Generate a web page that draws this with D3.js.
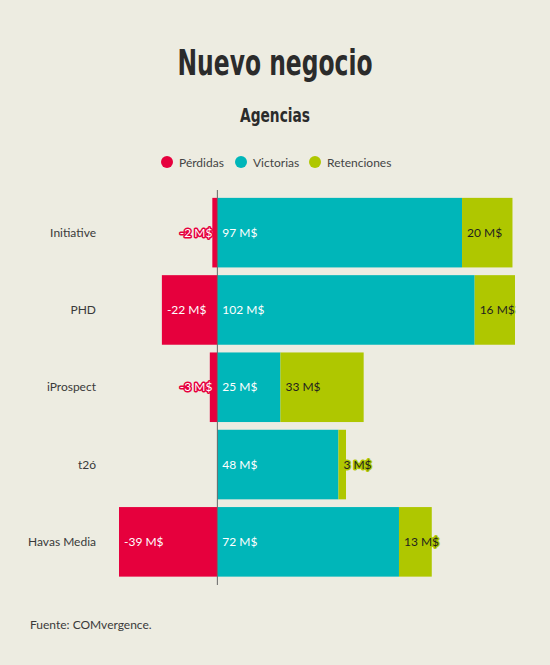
<!DOCTYPE html>
<html>
<head>
<meta charset="utf-8">
<script src="https://cdn.jsdelivr.net/npm/d3@7"></script>
<style>
  html, body { margin: 0; padding: 0; background: #edece1; }
  svg { display: block; }
</style>
</head>
<body>
<svg id="chart" width="550" height="665"></svg>
<script>
// nuevo negocio por agencia (M$)
const width = 550;
const height = 665;
const agencias = ["Initiative", "PHD", "iProspect", "t2ó", "Havas Media"];
const perdidas = [-2, -22, -3, 0, -39];
const victorias = [97, 102, 25, 48, 72];
const retenciones = [20, 16, 33, 3, 13];
const series = ["Pérdidas", "Victorias", "Retenciones"];
const colors = ["#e6003d", "#00b6b9", "#afc700"];
const labelColors = ["#ffffff", "#ffffff", "#1f1f1f"];

const bodyFont = "Lato, 'Noto Sans', sans-serif";
const titleFont = "'Liberation Sans Narrow', 'DejaVu Sans Condensed', sans-serif";

const svg = d3.select("#chart");
svg.append("rect").attr("width", width).attr("height", height).attr("fill", "#edece1");

// titles
svg.append("text")
    .attr("x", width / 2).attr("y", 75)
    .attr("text-anchor", "middle")
    .attr("font-family", titleFont)
    .attr("font-weight", "bold")
    .attr("font-size", 36)
    .attr("textLength", 195)
    .attr("lengthAdjust", "spacingAndGlyphs")
    .attr("fill", "#2b2b2b")
    .text("Nuevo negocio");

svg.append("text")
    .attr("x", width / 2).attr("y", 122)
    .attr("text-anchor", "middle")
    .attr("font-family", titleFont)
    .attr("font-weight", "bold")
    .attr("font-size", 20)
    .attr("textLength", 70)
    .attr("lengthAdjust", "spacingAndGlyphs")
    .attr("fill", "#2b2b2b")
    .text("Agencias");

// legend
const legendX = [167, 241, 315];
const legend = svg.append("g");
series.forEach((s, i) => {
    legend.append("circle")
        .attr("cx", legendX[i]).attr("cy", 162).attr("r", 6)
        .attr("fill", colors[i]);
    legend.append("text")
        .attr("x", legendX[i] + 12).attr("y", 166.5)
        .attr("font-family", bodyFont).attr("font-size", 12)
        .attr("fill", "#444")
        .text(s);
});

// build stacked rows
const rows = agencias.map((a, i) => ({
    agencia: a,
    segs: [
        { k: 0, x0: perdidas[i], x1: 0, v: perdidas[i] },
        { k: 1, x0: 0, x1: victorias[i], v: victorias[i] },
        { k: 2, x0: victorias[i], x1: victorias[i] + retenciones[i], v: retenciones[i] }
    ]
}));

const minV = d3.min(perdidas);
const maxV = d3.max(agencias, (_, i) => victorias[i] + retenciones[i]);
const x = d3.scaleLinear().domain([minV, maxV]).range([119, 515]);
const y = d3.scaleBand().domain(agencias).range([194, 580.5]).paddingInner(0.1).paddingOuter(0.05);

// y labels
svg.append("g")
    .selectAll("text")
    .data(agencias)
    .join("text")
    .attr("x", 96)
    .attr("y", d => y(d) + y.bandwidth() / 2 + 4)
    .attr("text-anchor", "end")
    .attr("font-family", bodyFont).attr("font-size", 12)
    .attr("fill", "#3a3a3a")
    .text(d => d);

const rowG = svg.append("g")
    .selectAll("g")
    .data(rows)
    .join("g")
    .attr("transform", d => `translate(0,${y(d.agencia)})`);

rowG.selectAll("rect")
    .data(d => d.segs.filter(s => s.v !== 0))
    .join("rect")
    .attr("x", d => x(Math.min(d.x0, d.x1)))
    .attr("width", d => Math.abs(x(d.x1) - x(d.x0)))
    .attr("y", 0)
    .attr("height", y.bandwidth())
    .attr("fill", d => colors[d.k]);

rowG.selectAll("text")
    .data(d => d.segs.filter(s => s.v !== 0))
    .join("text")
    .attr("x", d => {
        const w = Math.abs(x(d.x1) - x(d.x0));
        if (d.v < 0 && w < 40) return x(0) - 5;
        return x(Math.min(d.x0, d.x1)) + 5;
    })
    .attr("text-anchor", d => (d.v < 0 && Math.abs(x(d.x1) - x(d.x0)) < 40) ? "end" : "start")
    .attr("y", y.bandwidth() / 2 + 4)
    .attr("font-family", bodyFont).attr("font-size", 12)
    .attr("fill", d => labelColors[d.k])
    .attr("stroke", d => colors[d.k])
    .attr("stroke-width", 3)
    .attr("stroke-linejoin", "round")
    .attr("paint-order", "stroke")
    .text(d => `${d.v} M$`);

// zero line
svg.append("line")
    .attr("x1", x(0)).attr("x2", x(0))
    .attr("y1", 190).attr("y2", 585)
    .attr("stroke", "#666")
    .attr("stroke-width", 1);

// source
svg.append("text")
    .attr("x", 30).attr("y", 629)
    .attr("font-family", bodyFont).attr("font-size", 12)
    .attr("fill", "#3a3a3a")
    .text("Fuente: COMvergence.");
</script>
</body>
</html>
